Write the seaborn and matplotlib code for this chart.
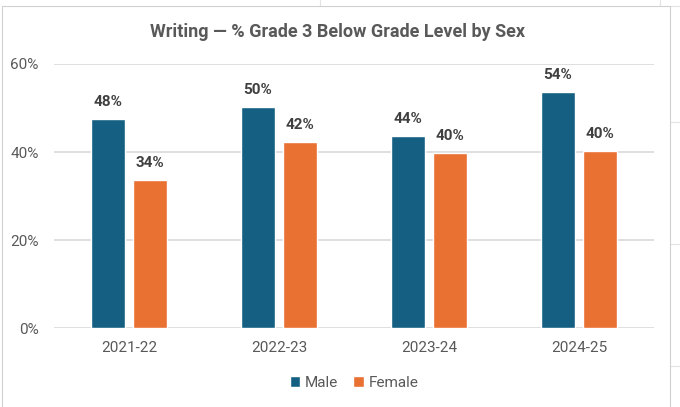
import pandas as pd
import seaborn as sns
import matplotlib.pyplot as plt
from matplotlib.patches import Rectangle
from matplotlib.ticker import FuncFormatter

# data
years = ["2021-22", "2022-23", "2023-24", "2024-25"]
male = [47.5, 50.2, 43.6, 53.6]
female = [33.6, 42.3, 39.8, 40.2]
male_labels = ["48%", "50%", "44%", "54%"]
female_labels = ["34%", "42%", "40%", "40%"]

df = pd.DataFrame({
    "Year": years * 2,
    "Sex": ["Male"] * 4 + ["Female"] * 4,
    "Pct": male + female,
})

sns.set_style("white")
plt.rcParams["font.family"] = ["Roboto", "DejaVu Sans"]

text_col = "#595959"
fig = plt.figure(figsize=(6.8, 4.07), dpi=100)

# spreadsheet cell lines behind the chart + chart frame
for x in [0.47, 0.97]:
    fig.add_artist(plt.Line2D([x, x], [0.985, 1], color="#e3e3e3", lw=0.8, zorder=-2))
for y in [0.985, 0.70, 0.40, 0.10]:
    fig.add_artist(plt.Line2D([0.985, 1], [y, y], color="#e3e3e3", lw=0.8, zorder=-2))
fig.add_artist(Rectangle((0.003, -0.01), 0.982, 0.995, transform=fig.transFigure,
                         facecolor="white", edgecolor="#d0d0d0", lw=0.8, zorder=-1))

ax = fig.add_axes([0.0794, 0.194, 0.8824, 0.6488])
ax.set_facecolor("none")
sns.barplot(data=df, x="Year", y="Pct", hue="Sex", order=years,
            hue_order=["Male", "Female"],
            palette={"Male": "#156082", "Female": "#E97132"},
            saturation=1, width=0.56, gap=0.19, ax=ax, zorder=3)

ax.bar_label(ax.containers[0], labels=male_labels, padding=7,
             fontsize=11, fontweight="bold", color="#404040")
ax.bar_label(ax.containers[1], labels=female_labels, padding=7,
             fontsize=11, fontweight="bold", color="#404040")

ax.set_ylim(0, 60)
ax.set_xlim(-0.5, 3.5)
ax.set_yticks([0, 20, 40, 60])
ax.yaxis.set_major_formatter(FuncFormatter(lambda v, p: f"{v:.0f}%"))
ax.grid(axis="y", color="#d9d9d9", lw=1.2, zorder=0)
ax.set_axisbelow(True)
for s in ax.spines.values():
    s.set_visible(False)
ax.tick_params(axis="both", length=0, colors=text_col, labelsize=11)
ax.tick_params(axis="x", pad=9)
ax.tick_params(axis="y", pad=11)
ax.set_xlabel("")
ax.set_ylabel("")

fig.text(0.497, 0.922, "Writing \u2014 % Grade 3 Below Grade Level by Sex",
         ha="center", va="center", fontsize=13, fontweight="bold", color=text_col)

ax.legend(loc="upper center", bbox_to_anchor=(0.5, -0.13), ncol=2, frameon=False,
          fontsize=11, handlelength=0.7, handleheight=0.7, handletextpad=0.3,
          columnspacing=1.0, labelcolor=text_col)

fig.savefig("out.png", dpi=100)
